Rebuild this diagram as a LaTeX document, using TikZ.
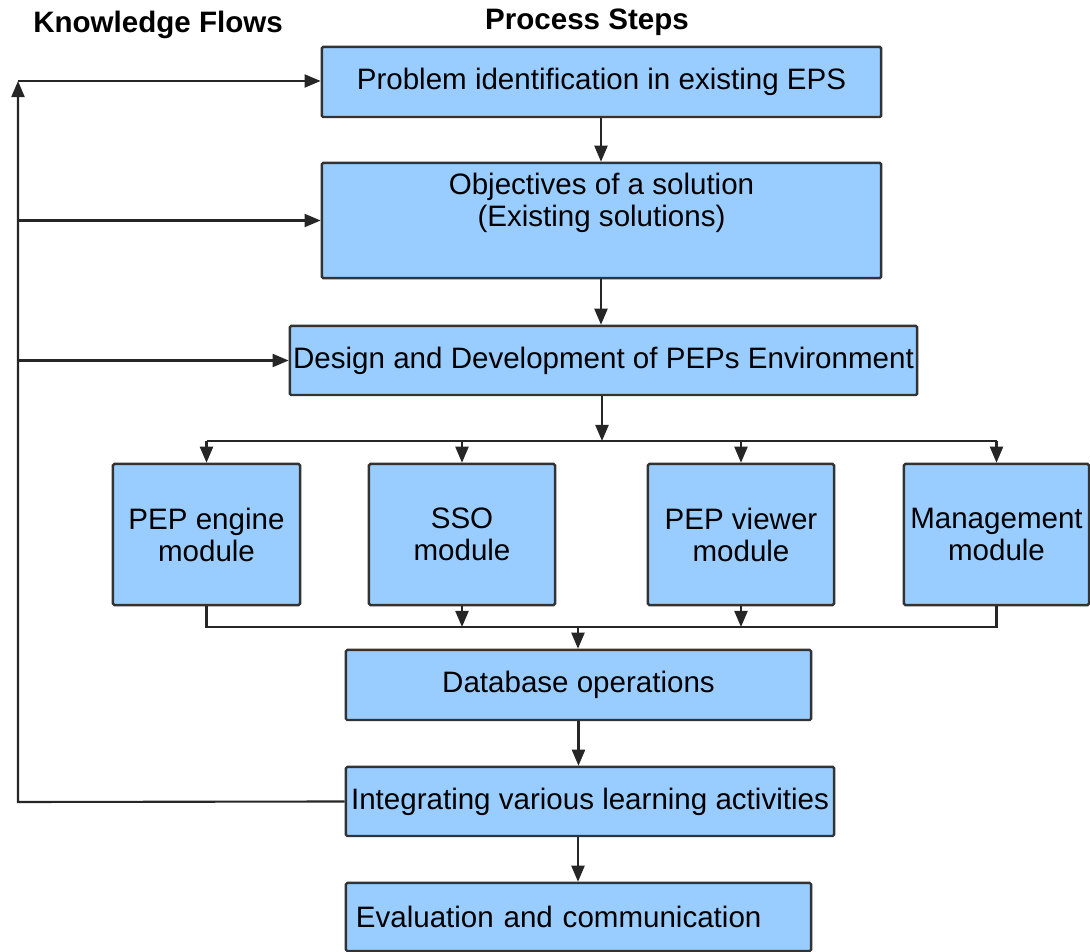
\documentclass[tikz,border=0pt]{standalone}
\usepackage{fontspec}
\setmainfont{Liberation Sans}
\usepackage{tikz}
\usetikzlibrary{arrows.meta, calc, positioning}
\definecolor{boxblue}{HTML}{99CCFF}
\definecolor{edgegray}{HTML}{333333}
\tikzset{
  stepbox/.style={draw=edgegray, fill=boxblue, line width=0.7pt, rounded corners=0.4pt,
    inner sep=0pt, align=center, font=\fontsize{8.4}{9.1}\selectfont},
  flow/.style={draw=black!85, line width=0.6pt, -{Triangle[length=0.16cm,width=0.13cm]}},
  link/.style={draw=black!85, line width=0.6pt},
  heading/.style={font=\fontsize{8.4}{9.1}\selectfont\bfseries, inner sep=0pt}
}

\begin{document}
\begin{tikzpicture}[x=0.01cm, y=-0.01cm]
          \useasboundingbox (0,0) rectangle (1090,952);
          % Headings
          \node[heading] (kflows) at (158,25) {Knowledge Flows};
          \node[heading] (psteps) at (587,22) {Process Steps};
          % Process steps
          \node[stepbox, minimum width=5.59cm, minimum height=0.70cm] (prob) at (601.5,82) {Problem identification in existing EPS};
          \node[stepbox, minimum width=5.59cm, minimum height=1.15cm] (obj) at (601.5,220.5) {};
          \node[align=center, inner sep=0pt, font=\fontsize{8.4}{9.1}\selectfont] (objtext) at (601.5,203) {Objectives of a solution\\(Existing solutions)};
          \node[stepbox, minimum width=6.27cm, minimum height=0.69cm] (design) at (603.5,360.5) {Design and Development of PEPs Environment};
          % Modules
          \node[stepbox, minimum width=1.87cm, minimum height=1.41cm] (engine) at (206.5,534.5) {PEP engine\\module};
          \node[stepbox, minimum width=1.86cm, minimum height=1.41cm] (sso) at (462,534.5) {SSO\\module};
          \node[stepbox, minimum width=1.86cm, minimum height=1.41cm] (viewer) at (741,534.5) {PEP viewer\\module};
          \node[stepbox, minimum width=1.85cm, minimum height=1.41cm] (mgmt) at (996.5,534.5) {Management\\module};
          \node[stepbox, minimum width=4.65cm, minimum height=0.70cm] (db) at (578.5,685) {Database operations};
          \node[stepbox, minimum width=4.88cm, minimum height=0.69cm] (integ) at (590,801.5) {Integrating various learning activities};
          \node[stepbox, minimum height=0.68cm, inner xsep=0.1cm, text width=4.45cm, align=left] (eval) at (578.5,917) {Evaluation and communication};
          % Split and merge points
          \coordinate (split) at (602,441);
          \coordinate (merge) at (578,627);
          % Arrows between steps
          \draw[flow] (prob.south -| 601,0) -- (obj.north -| 601,0);
          \draw[flow] (obj.south -| 601,0) -- (design.north -| 601,0);
          \draw[flow] (design.south -| split) -- (split);
          \draw[link] (split -| engine) -- (split -| mgmt);
          \foreach \m in {engine, sso, viewer, mgmt}
            \draw[flow] (split -| \m) -- (\m.north);
          \draw[link] (engine.south) -- (merge -| engine) -- (merge -| mgmt) -- (mgmt.south);
          \draw[flow] (sso.south) -- (merge -| sso);
          \draw[flow] (viewer.south) -- (merge -| viewer);
          \draw[flow] (merge) -- (merge |- db.north);
          \draw[flow] (db.south) -- (db.south |- integ.north);
          \draw[flow] (integ.south -| merge) -- (eval.north -| merge);
          % Knowledge flows
          \coordinate (fbot) at (18,802);
          \coordinate (ftop) at (18,81);
          \draw[flow] (integ.west) -- (fbot) -- (ftop);
          \draw[flow] (ftop) -- (ftop -| prob.west);
          \draw[flow] (ftop |- obj.west) -- (obj.west);
          \draw[flow] (ftop |- design.west) -- (design.west);
        \end{tikzpicture}
\end{document}
